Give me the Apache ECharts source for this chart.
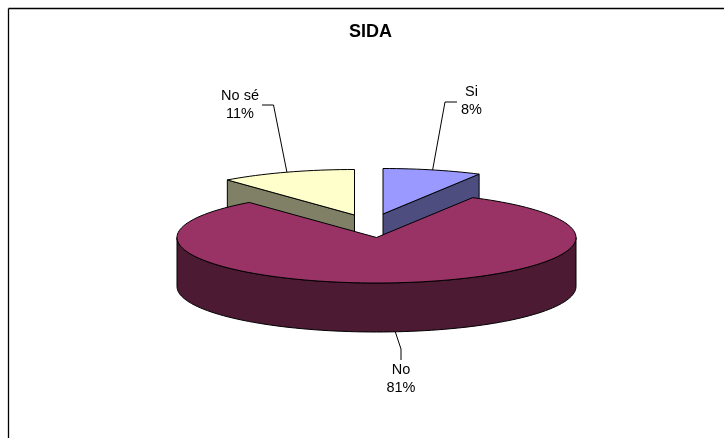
<!DOCTYPE html>
<html>
<head>
<meta charset="utf-8">
<style>html,body{margin:0;padding:0;background:#fff}#c{width:724px;height:438px}</style>
<script src="https://cdn.jsdelivr.net/npm/echarts@6/dist/echarts.min.js"></script>
</head>
<body>
<div id="c"></div>
<script>
var categories = ['Si', 'No', 'No sé'];
var values = [8, 81, 11];
var chartTitle = 'SIDA';

var topColors = ['#9999FF', '#993366', '#FFFFCC'];
var sideColors = ['#4D4D80', '#4D1A33', '#808066'];

// Pie projection
var CX = 376.5, CY = 237.5, RX = 199.5, RY = 45.5, DEPTH = 49;
var offsets = [[6.5, -23.5], [0, 0], [-22, -22.5]];
// leader elbow / tail and label centre per slice
var leaders = [
  [[445, 102], [457, 102]],
  [[401, 349], [401, 360]],
  [[273.5, 105], [262, 105]]
];
var labelPos = [[471.5, 100.5], [401, 379], [240, 105]];
var drawOrder = [0, 2, 1];

var total = values.reduce(function (a, b) { return a + b; }, 0);
var starts = [], acc = 0;
values.forEach(function (v) { starts.push(acc / total * 360); acc += v; });

function pt(ox, oy, deg, dz) {
  var r = deg * Math.PI / 180;
  return [ox + RX * Math.sin(r), oy - RY * Math.cos(r) + (dz || 0)];
}
function arc(ox, oy, a, b, dz) {
  var out = [], n = Math.max(2, Math.ceil(Math.abs(b - a) / 2));
  for (var i = 0; i <= n; i++) out.push(pt(ox, oy, a + (b - a) * i / n, dz));
  return out;
}
function poly(points, fill) {
  return { type: 'polygon', shape: { points: points },
    style: { fill: fill, stroke: '#000', lineWidth: 1, lineJoin: 'round' } };
}

function renderItem(params, api) {
  var i = api.value(0);
  var a = starts[i], b = a + api.value(1) / total * 360;
  var ox = CX + offsets[i][0], oy = CY + offsets[i][1];
  var children = [];
  var apex = [ox, oy], apexB = [ox, oy + DEPTH];

  // side walls facing the viewer
  var frontA = Math.max(a, 90), frontB = Math.min(b, 270);
  if (frontB > frontA) {
    children.push(poly(arc(ox, oy, frontA, frontB, 0)
      .concat(arc(ox, oy, frontB, frontA, DEPTH)), sideColors[i]));
  }
  if (a < 90 && b <= 90) { // cut face on the trailing edge (right-hand slice)
    var e = pt(ox, oy, b, 0);
    children.push(poly([apex, e, [e[0], e[1] + DEPTH], apexB], sideColors[i]));
  }
  if (a >= 270) { // cut face on the leading edge (left-hand slice)
    var s = pt(ox, oy, a, 0);
    children.push(poly([apex, s, [s[0], s[1] + DEPTH], apexB], sideColors[i]));
  }
  // top surface
  children.push(poly([apex].concat(arc(ox, oy, a, b, 0)), topColors[i]));

  // leader line from the slice's mid-angle
  var mid = (a + b) / 2;
  var isFront = mid > 90 && mid < 270;
  var anchor = pt(ox, oy, mid, isFront ? DEPTH : 0);
  children.push({ type: 'polyline', z2: 5,
    shape: { points: [anchor, leaders[i][0], leaders[i][1]] },
    style: { fill: 'none', stroke: '#000', lineWidth: 1 } });

  // label
  children.push({ type: 'text', z2: 6,
    style: {
      x: labelPos[i][0], y: labelPos[i][1],
      text: categories[i] + '\n' + api.value(1) + '%',
      fill: '#000', align: 'center', verticalAlign: 'middle',
      font: '14.5px "Liberation Sans", Arial, sans-serif', lineHeight: 18
    } });
  return { type: 'group', children: children };
}

var chart = echarts.init(document.getElementById('c'), null, { renderer: 'canvas' });
chart.setOption({
  animation: false,
  backgroundColor: '#fff',
  title: {
    text: chartTitle, left: 349, top: 23,
    textStyle: { color: '#000', fontFamily: '"Liberation Sans", Arial, sans-serif',
      fontWeight: 'bold', fontSize: 18 },
    padding: 0
  },
  graphic: [
    { type: 'line', shape: { x1: 8.5, y1: 8.5, x2: 724, y2: 8.5 },
      style: { stroke: '#000', lineWidth: 1.6 } },
    { type: 'line', shape: { x1: 8.5, y1: 8.5, x2: 8.5, y2: 438 },
      style: { stroke: '#000', lineWidth: 1.3 } }
  ],
  series: [{
    type: 'custom',
    coordinateSystem: 'none',
    renderItem: renderItem,
    data: drawOrder.map(function (i) { return [i, values[i]]; })
  }]
});
</script>
</body>
</html>
